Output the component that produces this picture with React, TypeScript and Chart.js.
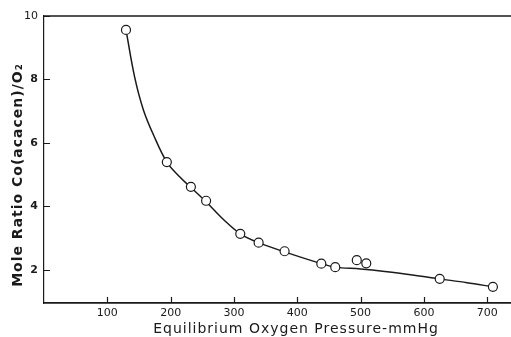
import React, { useEffect, useRef } from "react";
import { Chart, registerables } from "chart.js";

Chart.register(...registerables);

// Measured points (equilibrium O2 pressure in mmHg, mole ratio Co(acacen)/O2)
const pressure = [129.5, 194, 232, 256, 310, 339, 380, 438, 460, 494, 509, 625, 709];
const moleRatio = [9.56, 5.4, 4.62, 4.18, 3.14, 2.86, 2.59, 2.2, 2.09, 2.31, 2.21, 1.72, 1.47];

// Fitted curve
const curvePressure = [129.5, 143, 157, 173, 194, 215, 232, 256, 283, 310, 339, 380, 438, 460, 500, 562, 625, 668, 709];
const curveRatio = [9.56, 8.09, 7.04, 6.25, 5.4, 4.92, 4.6, 4.15, 3.6, 3.14, 2.86, 2.57, 2.2, 2.09, 2.03, 1.9, 1.72, 1.6, 1.47];

const xTicks = [100, 200, 300, 400, 500, 600, 700];
const yTicks = [2, 4, 6, 8, 10];

const xTitle = "Equilibrium Oxygen Pressure-mmHg";
const yTitle = "Mole Ratio Co(acacen)/O\u2082";

const INK = "#1a1a1a";
const FONT = '"DejaVu Sans", sans-serif';

const decorPlugin = {
  id: "decor",
  afterDraw(chart: any) {
    const { ctx, chartArea } = chart;
    const xs = chart.scales.x;
    const ys = chart.scales.y;
    ctx.save();
    ctx.strokeStyle = INK;
    // top frame line
    ctx.lineWidth = 1.4;
    ctx.beginPath();
    ctx.moveTo(chartArea.left, chartArea.top);
    ctx.lineTo(chartArea.right + 1, chartArea.top);
    ctx.stroke();
    // inward tick marks
    ctx.lineWidth = 1.2;
    ctx.beginPath();
    for (const v of yTicks) {
      const py = Math.round(ys.getPixelForValue(v)) + 0.5;
      ctx.moveTo(chartArea.left, py);
      ctx.lineTo(chartArea.left + 6, py);
    }
    for (const v of xTicks) {
      const px = Math.round(xs.getPixelForValue(v)) + 0.5;
      ctx.moveTo(px, chartArea.bottom);
      ctx.lineTo(px, chartArea.bottom - 6);
    }
    ctx.stroke();
    // axis titles
    ctx.fillStyle = INK;
    ctx.textAlign = "center";
    ctx.textBaseline = "middle";
    (ctx as any).letterSpacing = "1px";
    ctx.font = `14px ${FONT}`;
    ctx.fillText(xTitle, 296, 329);
    ctx.translate(18, 175);
    ctx.rotate(-Math.PI / 2);
    ctx.font = `bold 14px ${FONT}`;
    ctx.fillText(yTitle, 0, 0);
    ctx.restore();
  },
};

export default function App() {
  const ref = useRef<HTMLCanvasElement>(null);
  useEffect(() => {
    if (!ref.current) return;
    const chart = new Chart(ref.current, {
      type: "scatter",
      data: {
        datasets: [
          {
            label: "measured",
            data: pressure.map((x, i) => ({ x, y: moleRatio[i] })),
            pointRadius: 4.5,
            pointStyle: "circle",
            pointBackgroundColor: "#ffffff",
            pointBorderColor: INK,
            pointBorderWidth: 1.2,
            showLine: false,
            order: 0,
          },
          {
            label: "fit",
            data: curvePressure.map((x, i) => ({ x, y: curveRatio[i] })),
            showLine: true,
            pointRadius: 0,
            borderColor: INK,
            borderWidth: 1.5,
            tension: 0.35,
            order: 1,
          },
        ],
      },
      plugins: [decorPlugin],
      options: {
        responsive: false,
        animation: false,
        layout: { autoPadding: false, padding: { top: 16, right: 1, left: 0, bottom: 0 } },
        plugins: { legend: { display: false }, tooltip: { enabled: false } },
        scales: {
          x: {
            type: "linear",
            min: 0,
            max: 736,
            afterBuildTicks: (s: any) => {
              s.ticks = xTicks.map((v) => ({ value: v }));
            },
            afterFit: (s: any) => {
              s.height = 34;
              s.paddingLeft = 0;
              s.paddingRight = 0;
            },
            grid: { display: true, drawOnChartArea: false, drawTicks: false },
            border: { display: true, color: INK, width: 1.8 },
            ticks: {
              font: { family: FONT, size: 11 },
              color: INK,
              padding: 4,
              maxRotation: 0,
              autoSkip: false,
            },
          },
          y: {
            type: "linear",
            min: 0.96,
            max: 10,
            afterBuildTicks: (s: any) => {
              s.ticks = yTicks.map((v) => ({ value: v }));
            },
            afterFit: (s: any) => {
              s.width = 44;
              s.paddingTop = 0;
              s.paddingBottom = 0;
            },
            grid: { display: true, drawOnChartArea: false, drawTicks: false },
            border: { display: true, color: INK, width: 1.2 },
            ticks: {
              font: (c: any) => ({
                family: FONT,
                size: 11,
                weight: c.tick && c.tick.value === 10 ? "normal" : "bold",
              }),
              color: INK,
              padding: 6,
              autoSkip: false,
            },
          },
        },
      },
    } as any);
    return () => chart.destroy();
  }, []);
  return (
    <div style={{ position: "absolute", left: 0, top: 0, width: 511, height: 337, background: "#fff" }}>
      <canvas ref={ref} width={511} height={337} style={{ display: "block", width: 511, height: 337 }} />
    </div>
  );
}
